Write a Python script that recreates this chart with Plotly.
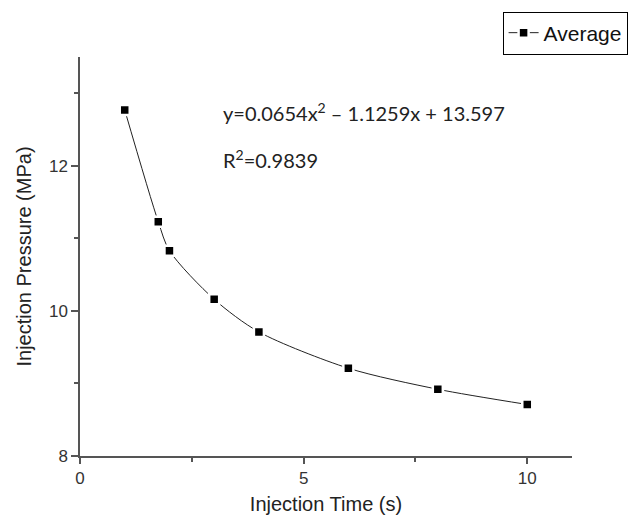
import plotly.graph_objects as go

time_s = [1, 1.75, 2, 3, 4, 6, 8, 10]
pressure = [12.77, 11.23, 10.83, 10.16, 9.71, 9.21, 8.92, 8.71]
series_name = "Average"
eq_text = "y=0.0654x<sup>2</sup> – 1.1259x + 13.597"
r2_text = "R<sup>2</sup>=0.9839"

axis_font = dict(family="Liberation Sans", size=20, color="#222")
tick_font = dict(family="Liberation Sans", size=17, color="#333")

fig = go.Figure()
fig.add_trace(go.Scatter(
    x=time_s, y=pressure, name=series_name, mode="lines+markers",
    line=dict(color="#222", width=1, shape="spline", smoothing=0.8),
    marker=dict(symbol="square", size=10, color="black", line=dict(color="white", width=2.5)),
))

fig.update_layout(
    width=640, height=523, paper_bgcolor="white", plot_bgcolor="white",
    margin=dict(l=80, r=64, t=54, b=67),
    showlegend=True,
    legend=dict(x=1.113, y=1.114, xanchor="right", yanchor="top",
                bordercolor="black", borderwidth=1, bgcolor="white",
                font=dict(family="Liberation Sans", size=21, color="#111"),
                itemwidth=30, tracegroupgap=0),
    annotations=[
        dict(x=3.16, y=12.74, xref="x", yref="y", text=eq_text, showarrow=False,
             xanchor="left", yanchor="middle",
             font=dict(family="Lato", size=20, color="#222")),
        dict(x=3.16, y=12.10, xref="x", yref="y", text=r2_text, showarrow=False,
             xanchor="left", yanchor="middle",
             font=dict(family="Lato", size=20, color="#222")),
    ],
)
fig.update_xaxes(range=[0, 11], tickvals=[0, 5, 10], ticks="outside", ticklen=6, tickwidth=1.5,
                 tickcolor="#555", showline=True, linecolor="#555", linewidth=1.5,
                 showgrid=False, zeroline=False, tickfont=tick_font,
                 minor=dict(tickvals=[2.5, 7.5], ticks="outside", ticklen=4, tickcolor="#555", tickwidth=1.5),
                 title=dict(text="Injection Time (s)", font=axis_font, standoff=10))
fig.update_yaxes(range=[8, 13.5], tickvals=[8, 10, 12], ticks="outside", ticklen=7, tickwidth=1.5,
                 tickcolor="#555", showline=True, linecolor="#555", linewidth=1.5,
                 showgrid=False, zeroline=False, tickfont=tick_font,
                 minor=dict(tickvals=[9, 11, 13], ticks="outside", ticklen=4, tickcolor="#555", tickwidth=1.5),
                 title=dict(text="Injection Pressure (MPa)", font=axis_font, standoff=12))

fig.write_html("out.html")
